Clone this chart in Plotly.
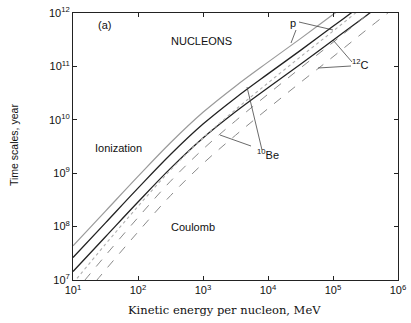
import plotly.graph_objects as go

# log10 of kinetic energy per nucleon (MeV)
log_energy = [1, 1.5, 2, 2.5, 3, 3.5, 4, 4.5, 5, 5.5, 6]
# log10 of time scale (year)
p_ion = [7.64, 8.29, 8.94, 9.57, 10.14, 10.63, 11.08, 11.52, 11.97, 12.42, 12.88]
be_ion = [7.42, 8.07, 8.72, 9.35, 9.92, 10.41, 10.86, 11.30, 11.75, 12.20, 12.66]
c_ion = [7.16, 7.81, 8.46, 9.09, 9.66, 10.15, 10.60, 11.04, 11.49, 11.94, 12.40]
p_coul = [6.94, 7.67, 8.38, 9.06, 9.66, 10.19, 10.69, 11.18, 11.66, 12.15, 12.63]
be_coul = [6.73, 7.46, 8.17, 8.85, 9.45, 9.98, 10.48, 10.97, 11.45, 11.94, 12.42]
c_coul = [6.46, 7.19, 7.90, 8.58, 9.18, 9.71, 10.21, 10.70, 11.18, 11.67, 12.15]

x_tickvals = [1e1, 1e2, 1e3, 1e4, 1e5, 1e6]
x_ticktext = ["10<sup>1</sup>", "10<sup>2</sup>", "10<sup>3</sup>", "10<sup>4</sup>", "10<sup>5</sup>", "10<sup>6</sup>"]
y_tickvals = [1e7, 1e8, 1e9, 1e10, 1e11, 1e12]
y_ticktext = ["10<sup>7</sup>", "10<sup>8</sup>", "10<sup>9</sup>", "10<sup>10</sup>", "10<sup>11</sup>", "10<sup>12</sup>"]

E = [10 ** v for v in log_energy]

series = [
    (p_ion, "#9a9a9a", "solid", 1.2),
    (be_ion, "#222222", "solid", 1.3),
    (c_ion, "#222222", "solid", 1.3),
    (p_coul, "#b0b0b0", "dot", 1.1),
    (be_coul, "#8a8a8a", "dash", 1.0),
    (c_coul, "#8a8a8a", "dash", 1.0),
]

fig = go.Figure()
for vals, col, dash, w in series:
    fig.add_trace(go.Scatter(x=E, y=[10 ** v for v in vals], mode="lines",
                             line=dict(color=col, dash=dash, width=w, shape="spline"),
                             showlegend=False, hoverinfo="skip"))

L, R, T, B = 73, 398, 13, 280
def px(x):
    return (x - L) / (R - L)
def py(y):
    return (B - y) / (B - T)

leaders = [
    ((296, 30), (291, 43)),
    ((299, 22), (333, 30)),
    ((352, 62), (333, 40)),
    ((351, 66), (318, 68)),
    ((262, 150), (247, 87)),
    ((251, 146), (220, 135)),
]
for (a, b) in leaders:
    fig.add_shape(type="line", xref="paper", yref="paper",
                  x0=px(a[0]), y0=py(a[1]), x1=px(b[0]), y1=py(b[1]),
                  line=dict(color="#444444", width=0.8))

font = dict(family="Liberation Sans, Arial, sans-serif", size=11, color="#111111")
texts = [
    (104, 25, "(a)"),
    (201, 41, "NUCLEONS"),
    (118, 148, "Ionization"),
    (193, 227, "Coulomb"),
    (293, 23, "p"),
    (360, 64, "<sup>12</sup>C"),
    (268, 154, "<sup>10</sup>Be"),
]
for x, y, t in texts:
    fig.add_annotation(xref="paper", yref="paper", x=px(x), y=py(y), text=t,
                       showarrow=False, font=font, xanchor="center", yanchor="middle")

fig.add_annotation(xref="paper", yref="paper", x=px(14), y=py(145), text="Time scales, year",
                   textangle=-90, showarrow=False, xanchor="center", yanchor="middle",
                   font=dict(family="Liberation Sans, Arial, sans-serif", size=10.5, color="#111111"))
fig.add_annotation(xref="paper", yref="paper", x=px(224), y=py(310), text="Kinetic energy per nucleon, MeV",
                   showarrow=False, xanchor="center", yanchor="middle",
                   font=dict(family="DejaVu Serif, Liberation Serif, serif", size=11.5, color="#111111"))

axis_common = dict(type="log", showgrid=False, zeroline=False, showline=True, automargin=False,
                   linecolor="#222222", linewidth=1, mirror="ticks", ticks="inside",
                   ticklen=4, tickcolor="#222222", ticklabeloverflow="allow",
                   tickfont=dict(family="Liberation Sans, Arial, sans-serif", size=11, color="#111111"))

fig.update_xaxes(**axis_common, range=[1, 6], tickvals=x_tickvals, ticktext=x_ticktext)
fig.update_yaxes(**axis_common, range=[7, 12], tickvals=y_tickvals, ticktext=y_ticktext)

fig.update_layout(width=411, height=323, margin=dict(l=73, r=13, t=13, b=43, autoexpand=False),
                  plot_bgcolor="white", paper_bgcolor="white")

fig.write_html("out.html", config={"displayModeBar": False},
               post_script="document.body.style.margin='0px';document.body.style.overflow='hidden';")
